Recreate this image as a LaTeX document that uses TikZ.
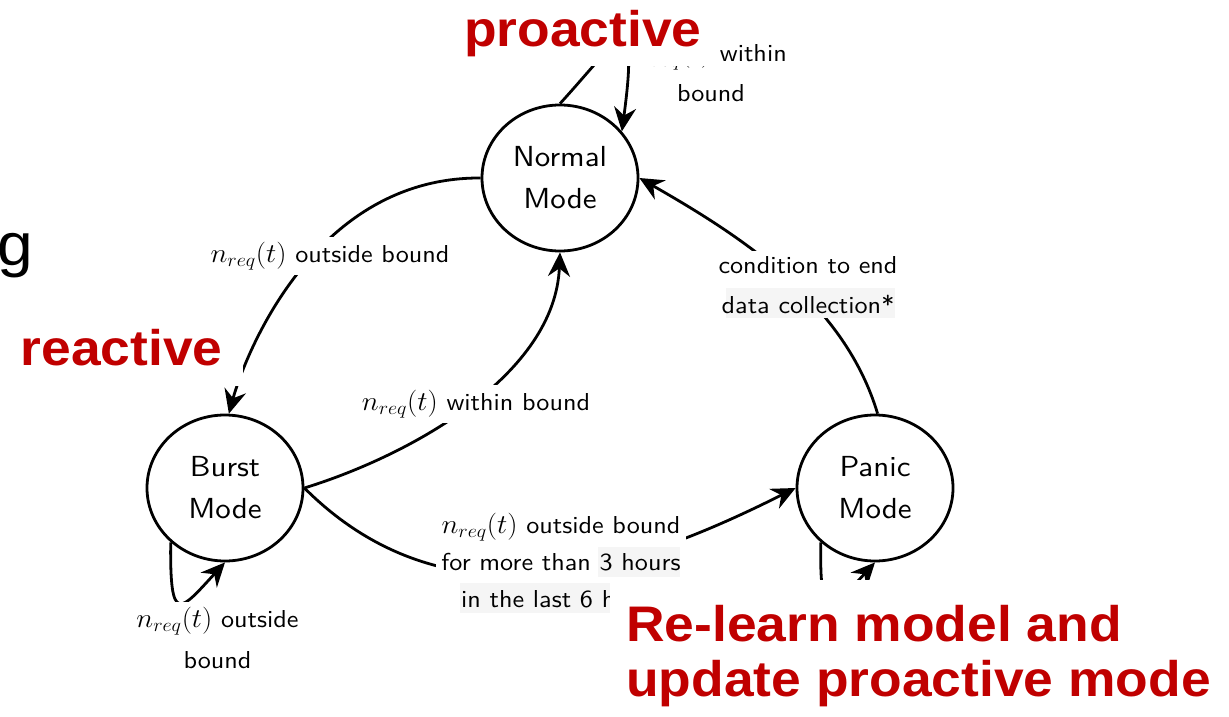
\documentclass[tikz,border=0pt]{standalone}
\usepackage{fontspec}
\usetikzlibrary{arrows.meta,shapes.geometric}
\newfontfamily\diagsans[FakeStretch=1.068]{lmsans10-regular.otf}
\newfontfamily\slidefont[FakeStretch=1.068]{Liberation Sans}
\definecolor{slidered}{RGB}{192,0,0}
\newcommand{\nreq}{\scalebox{1.16}[1.09]{$n_{req}(t)$}}

\begin{document}
\begin{tikzpicture}[x=1pt,y=-1pt,
  state/.style={ellipse, draw, line width=2.8pt, minimum width=156pt, minimum height=146pt,
    inner sep=0pt, align=center, font=\diagsans\fontsize{29}{42}\selectfont},
  trans/.style={line width=2.8pt, -{Stealth[length=24pt,width=22pt,inset=8pt]}},
  cond/.style={fill=white, inner sep=5pt, align=center, font=\diagsans\fontsize{24.5}{40}\selectfont},
  note/.style={fill=white, text=slidered, align=left,
    font=\slidefont\bfseries\fontsize{50}{55}\selectfont},
  patch/.style={fill=black, fill opacity=0.04}
]
\useasboundingbox (0,0) rectangle (1229,717);

% states
\node[state] (normal) at (560,178) {Normal\\Mode};
\node[state] (burst)  at (225,488) {Burst\\Mode};
\node[state] (panic)  at (875,488) {Panic\\Mode};

% transitions
\draw[trans] (normal.west) .. controls +(-168,-1) and +(15,-55) .. (burst.87);
\draw[trans] (burst.east) .. controls +(110,-34) and +(-5,121) .. (normal.south);
\draw[trans] (burst.east) .. controls +(150,150) and +(-150,75) .. (panic.west);
\draw[trans] (panic.88) .. controls +(-33,-110) and +(105,60) .. (normal.east);
\draw[trans] (burst.225) .. controls +(-1,84) and +(-45,49) .. (burst.south);
\draw[trans] (panic.225) .. controls +(-1,84) and +(-45,49) .. (panic.south);
\draw[trans] (normal.north) .. controls +(55,-60) and +(18,-134) .. (normal.37);

% transition conditions (multi-line nodes are placed by the baseline of their last line)
\node[cond, anchor=base] (c1) at (330,262) {\nreq{} outside bound};
\node[cond, anchor=base] (c2) at (476,410) {\nreq{} within bound};
\node[cond, anchor=base, font=\diagsans\fontsize{24.5}{37}\selectfont] (c3) at (561,607)
  {\nreq{} outside bound\\for more than 3 hours\\in the last 6 hours};
\node[cond, anchor=base] (c4) at (808,313) {condition to end\\data collection*};
\node[cond, anchor=base, font=\diagsans\fontsize{24.5}{41}\selectfont] (c5) at (217.5,668)
  {\nreq{} outside\\bound};
\node[cond, anchor=base, fill=none] (c6) at (711,102) {\nreq{} within\\bound};

% light highlight strips
\fill[patch] (598,547) rectangle (680,577);
\fill[patch] (460,583) rectangle (612,613);
\fill[patch] (726,288) rectangle (895,318);

% annotations
\node[note, anchor=base west, inner xsep=12pt, inner ysep=9pt] (proactive) at (452,47) {proactive};
\node[note, anchor=base west, inner xsep=20pt, inner ysep=21pt] (reactive) at (0.5,365) {reactive};
\node[note, anchor=north west, inner xsep=16pt, inner ysep=25pt] (relearn) at (610,580)
  {Re-learn model and\\update proactive mode};
\node[anchor=base west, inner sep=0pt, font=\slidefont\fontsize{60}{60}\selectfont] (g) at (-3,265) {g};
\end{tikzpicture}
\end{document}
